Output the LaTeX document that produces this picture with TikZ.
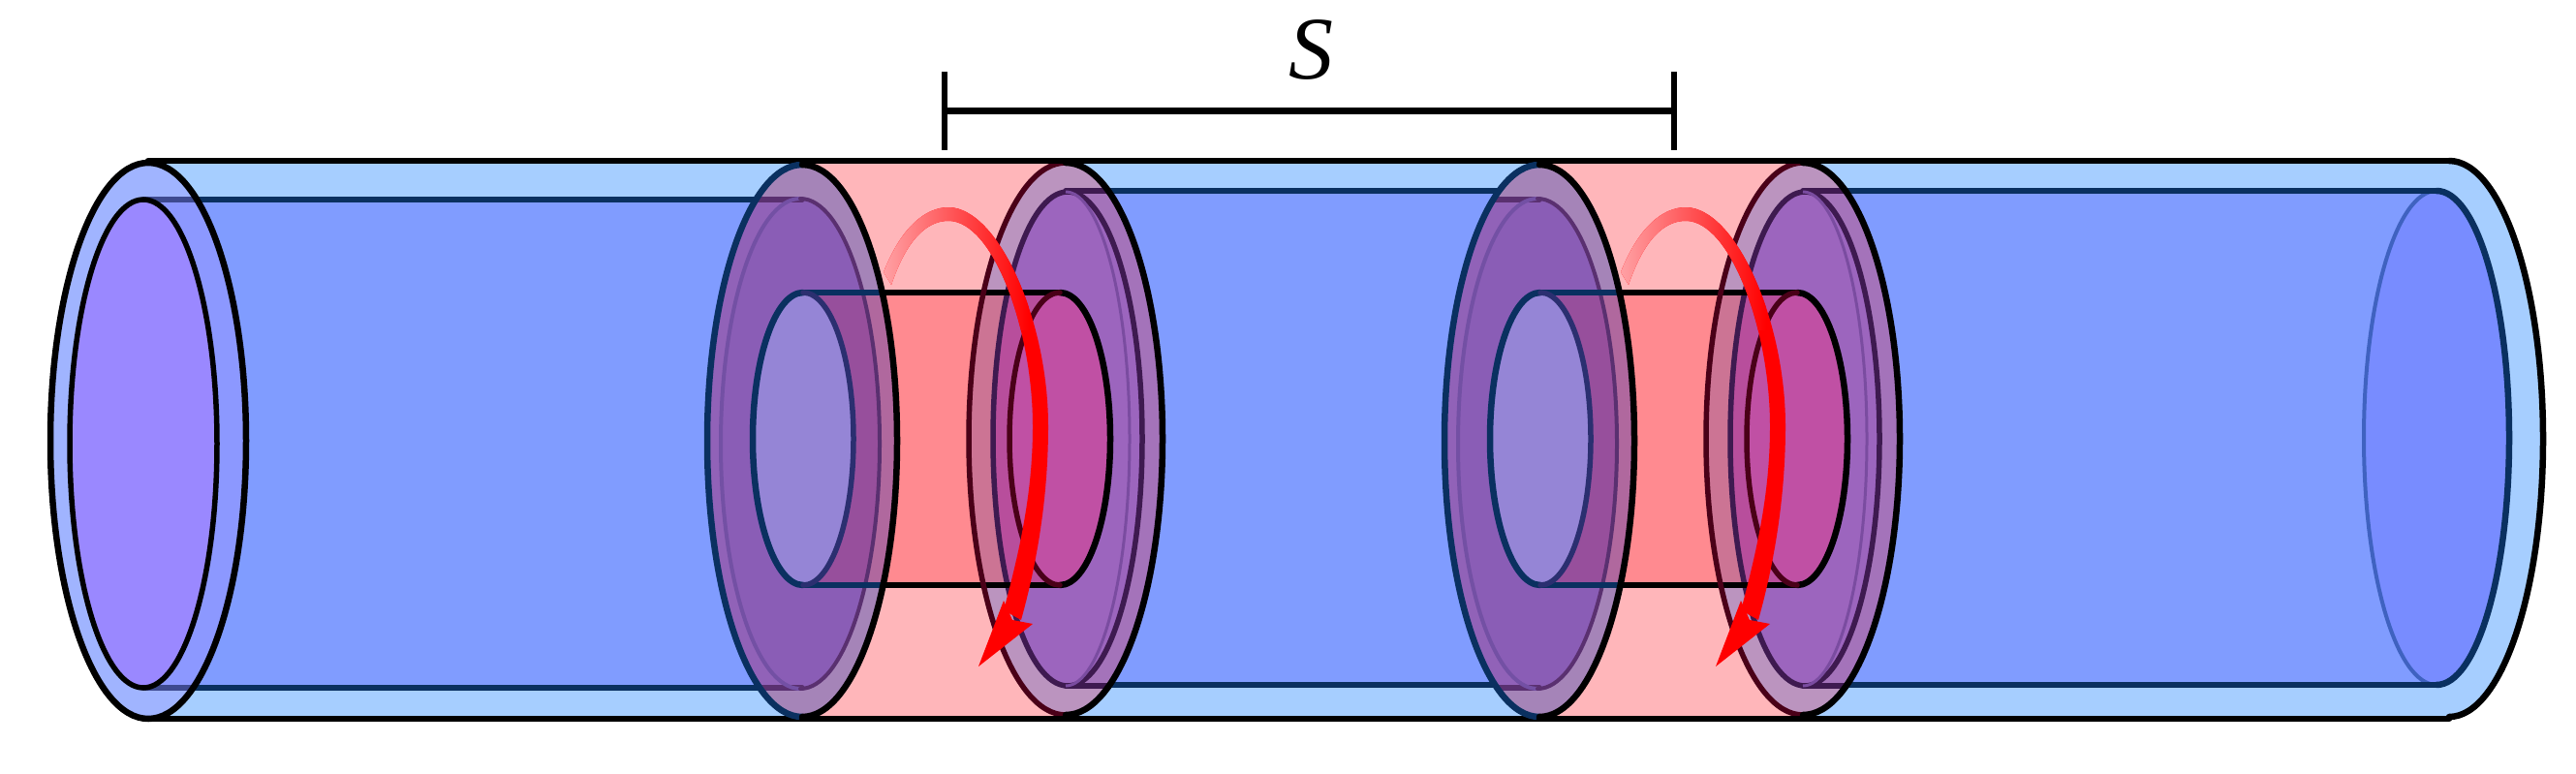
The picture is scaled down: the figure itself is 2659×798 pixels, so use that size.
\documentclass[tikz,border=0pt]{standalone}
\usepackage{fontspec}
\newfontfamily\labelfont{Liberation Serif}
\newcommand\EL[4]{(#1,#2) ellipse [x radius=#3,y radius=#4]}
\newcommand\HR[4]{({#1},{#2-#4}) .. controls ({#1+0.5523*#3},{#2-#4}) and ({#1+#3},{#2-0.5523*#4}) .. ({#1+#3},{#2}) .. controls ({#1+#3},{#2+0.5523*#4}) and ({#1+0.5523*#3},{#2+#4}) .. ({#1},{#2+#4})}
\newcommand\HL[4]{({#1},{#2-#4}) .. controls ({#1-0.5523*#3},{#2-#4}) and ({#1-#3},{#2-0.5523*#4}) .. ({#1-#3},{#2}) .. controls ({#1-#3},{#2+0.5523*#4}) and ({#1-0.5523*#3},{#2+#4}) .. ({#1},{#2+#4})}
\definecolor{wall}{HTML}{A6CEFF}
\definecolor{bore}{HTML}{809CFF}
\definecolor{navy}{HTML}{0A3060}
\definecolor{pinkc}{HTML}{FFB6BA}
\definecolor{redt}{HTML}{FF8A90}
\tikzset{
  thick line/.style={line width=6.5pt,line cap=round},
  mid line/.style={line width=5.5pt,line cap=round},
  thin line/.style={line width=4pt,line cap=round},
}
\newcommand\Crescent{(912,281) .. controls (930,235) and (955,214) .. (979,214) .. controls (1030,214) and (1082,330) .. (1082,440) .. controls (1082,520) and (1068,590) .. (1054,640) -- (1036,630) .. controls (1052,570) and (1066,510) .. (1066,440) .. controls (1066,340) and (1025,228) .. (979,228) .. controls (955,228) and (935,250) .. (920,294) -- cycle}
\newcommand\Collar{%
  % pink sleeve
  \fill[pinkc] (828,166) rectangle (1100,742);
  % right flange
  \fill[fill=BBp] \EL{1100}{453}{100}{287};
  \begin{scope}
    \clip \EL{1100}{453}{100}{287};
    \fill[fill=RBp] (1100,197) rectangle (1210,708);
    \fill[fill=RIp] \EL{1102}{453}{77}{255};
  \end{scope}
  % left flange
  \fill[fill=LOp] \EL{828}{455}{98}{287};
  \begin{scope}
    \clip \EL{828}{455}{98}{287};
    \fill[fill=LBp] (720,206) rectangle (828,710);
    \fill[fill=LIp] \EL{826}{458}{82}{253};
  \end{scope}
  % inner tube
  \def\tubepath{(829,302) -- \HR{1094}{453}{52}{151} -- (829,604) -- cycle}
  \begin{scope}
    \clip \tubepath;
    \fill[redt] (776,290) rectangle (1150,615);
    \fill[fill=TAp] \EL{1100}{453}{100}{287};
    \fill[fill=TBp] \EL{1102}{453}{77}{255};
    \fill[fill=TCp] \EL{828}{455}{98}{287};
    \fill[fill=TDp] \EL{826}{458}{82}{253};
  \end{scope}
  \fill[fill=TEp] \EL{1094}{453}{52}{151};
  \fill[fill=TFp] \EL{829}{453}{52}{151};
  % bore lines inside the flanges
  \begin{scope}
    \clip \EL{828}{455}{98}{285};
    \draw[mid line,draw=FLa] (720,206) -- (828,206) (720,710) -- (828,710);
  \end{scope}
  \begin{scope}
    \clip \EL{1100}{453}{100}{285};
    \draw[mid line,draw=FLb] (1100,197) -- (1210,197) (1100,708) -- (1210,708);
  \end{scope}
  % flange inner edges
  \draw[thin line,draw=FLc] \HL{826}{458}{82}{253};
  \draw[thin line,draw=FLa] \HR{826}{458}{82}{253};
  \draw[mid line,draw=FLb] \HL{1102}{453}{77}{255};
  \draw[mid line,draw=FLb] \HR{1102}{453}{77}{255};
  \draw[line width=3pt,draw=FLd] \HR{1100}{453}{66}{255};
  % inner tube edges
  \draw[thick line,draw=navy] (829,302) -- (915,302) (829,604) -- (915,604);
  \draw[thick line,draw=black] (915,302) -- (1094,302) (915,604) -- (1094,604);
  \draw[thick line,draw=navy] \HL{829}{453}{52}{151};
  \draw[mid line,draw=FLe] \HR{829}{453}{52}{151};
  \draw[thick line,draw=black] \HR{1094}{453}{52}{151};
  \draw[mid line,draw=FLf] \HL{1094}{453}{52}{151};
  % flange outer edges
  \draw[thick line,draw=navy] \HL{828}{455}{98}{285};
  \draw[thick line,draw=black] \HR{828}{455}{98}{285};
  \draw[mid line,draw=FLf] \HL{1100}{453}{100}{285};
  \draw[thick line,draw=black] \HR{1100}{453}{100}{285};
  % rotation arrow
  \fill[red] \Crescent;
  \begin{scope}
    \clip \Crescent;
    \shade[left color=AAa,middle color=AAb,right color=red] (905,200) rectangle (1062,340);
  \end{scope}
  \fill[red] (1010,688) -- (1036,620) -- (1045,640) -- (1066,644) -- cycle;
}
\definecolor{BBp}{HTML}{BB94BF}
\definecolor{RBp}{HTML}{A473BA}
\definecolor{RIp}{HTML}{9C65BE}
\definecolor{LOp}{HTML}{A584B8}
\definecolor{LBp}{HTML}{9162B8}
\definecolor{LIp}{HTML}{8A5DB6}
\definecolor{TAp}{HTML}{CC7494}
\definecolor{TBp}{HTML}{B84E9C}
\definecolor{TCp}{HTML}{B0689E}
\definecolor{TDp}{HTML}{974F9C}
\definecolor{TEp}{HTML}{C050A4}
\definecolor{TFp}{HTML}{9585D6}
\definecolor{FLa}{HTML}{5A3070}
\definecolor{FLb}{HTML}{3E1A50}
\definecolor{FLc}{HTML}{7350A4}
\definecolor{FLd}{HTML}{7A4CA0}
\definecolor{FLe}{HTML}{2B2F70}
\definecolor{FLf}{HTML}{4A0018}
\definecolor{AAa}{HTML}{FFA8AC}
\definecolor{AAb}{HTML}{FF5560}
\begin{document}
\begin{tikzpicture}[x=1pt,y=-1pt]
  \useasboundingbox (0,0) rectangle (2659,798);
  \fill[white] (0,0) rectangle (2659,798);
  % blue tube bodies
  \fill[wall] (153,166) rectangle (2528,742);
  \fill[wall] \HR{2528}{453}{97}{287};
  \fill[bore] (148,206) rectangle (828,710);
  \fill[bore] (1100,197) rectangle (2515,707);
  \fill[bore] \HR{2515}{452}{75}{255};
  % right open end
  \fill[fill={rgb,255:red,120;green,140;blue,255}] \EL{2515}{452}{75}{255};
  \draw[thin line,draw={rgb,255:red,63;green,98;blue,192}] \HL{2515}{452}{75}{255};
  \draw[thick line,draw=navy] \HR{2515}{452}{75}{255};
  % tube lines
  \draw[mid line,draw=navy] (153,206) -- (828,206) (153,710) -- (828,710);
  \draw[mid line,draw=navy] (1100,197) -- (2515,197) (1100,707) -- (2515,707);
  \draw[thick line,draw=black] (153,166) -- (2528,166) (153,742) -- (2528,742);
  \draw[thick line,draw=black] \HR{2528}{453}{97}{287};
  % left open end
  \fill[fill={rgb,255:red,160;green,180;blue,255}] \EL{153}{455}{101}{287};
  \begin{scope}
    \clip \EL{153}{455}{101}{287};
    \fill[fill={rgb,255:red,140;green,152;blue,255}] (148,206) rectangle (260,710);
  \end{scope}
  \fill[fill={rgb,255:red,154;green,136;blue,255}] \EL{148}{458}{76}{252};
  \begin{scope}
    \clip \EL{153}{455}{101}{287};
    \draw[mid line,draw={rgb,255:red,62;green,74;blue,144}] (148,206) -- (260,206) (148,710) -- (260,710);
  \end{scope}
  \draw[mid line,draw=black] \EL{148}{458}{76}{252};
  \draw[thick line,draw=black] \EL{153}{455}{101}{287};
  % two sleeves
  \Collar
  \begin{scope}[xshift=761pt]
    \Collar
  \end{scope}
  \draw[thick line,draw=black] (828,166) -- (1100,166) (1589,166) -- (1861,166) (828,742) -- (1100,742) (1589,742) -- (1861,742);
  % dimension bar
  \coordinate (sa) at (975,114);
  \coordinate (sb) at (1728,114);
  \draw[line width=7pt] (sa) -- (sb);
  \draw[line width=5.5pt] (975,74) -- (975,155);
  \draw[line width=5.5pt] (1728,74) -- (1728,155);
  \node[inner sep=0pt,anchor=base] (slabel) at (1353,81) {\fontsize{92}{92}\selectfont\labelfont\itshape S};
\end{tikzpicture}
\end{document}
